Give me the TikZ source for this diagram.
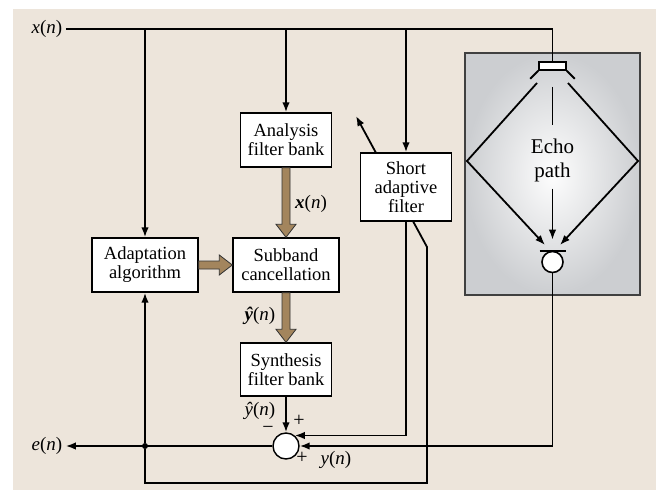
\documentclass[tikz,border=0pt]{standalone}
\usepackage{fontspec}
\setmainfont{Liberation Serif}
\usetikzlibrary{arrows.meta,calc}

\definecolor{panel}{RGB}{237,229,219}
\definecolor{bandbrown}{RGB}{163,133,93}
\definecolor{roomgray}{RGB}{204,206,209}

\tikzset{
  block/.style={draw, fill=white, line width=1.4pt, align=center, inner sep=0pt,
    minimum width=91pt, minimum height=54pt, font=\fontsize{18.5}{19}\selectfont},
  wire/.style={line width=1.8pt},
  sig/.style={wire, -{Latex[length=10pt,width=7.5pt]}},
  fat/.style={fill=bandbrown, draw=black!80, line width=0.8pt},
  lbl/.style={font=\fontsize{19}{20}\selectfont},
  sign/.style={font=\fontsize{20}{20}\selectfont, inner sep=0pt}
}

% wide subband arrow from #1 to #2
\newcommand{\fatarrow}[2]{%
  \filldraw[fat] let \p1=(#1), \p2=(#2), \n1={atan2(\y2-\y1,\x2-\x1)},
      \n2={\n1+90}, \n3={\n1+180}, \n4={\n1-90} in
    ($(\p1)+(\n2:4pt)$) -- ($(\p2)+(\n3:13pt)+(\n2:4pt)$)
    -- ($(\p2)+(\n3:13pt)+(\n2:10pt)$) -- (\p2)
    -- ($(\p2)+(\n3:13pt)+(\n4:10pt)$) -- ($(\p2)+(\n3:13pt)+(\n4:4pt)$)
    -- ($(\p1)+(\n4:4pt)$) -- cycle;
}

\begin{document}
\begin{tikzpicture}[x=1pt, y=-1pt]
    \useasboundingbox (0,0) rectangle (657,490);
    \fill[panel] (13,9) rectangle (656,490);

    % room with loudspeaker and microphone
    \node[draw=black!75, line width=1.2pt, minimum width=175pt, minimum height=242pt,
      inner color=white!97!roomgray, outer color=roomgray] (room) at (552.5,174) {};
    \node[draw, fill=white, line width=1.6pt, minimum width=27pt, minimum height=8pt, inner sep=0pt] (spk) at (552.5,66) {};
    \node[circle, draw, fill=white, line width=1.6pt, minimum size=21pt, inner sep=0pt] (mic) at (552.5,262) {};
    \node[align=center, font=\fontsize{21}{24}\selectfont, inner ysep=13pt] (echo) at (552.5,160) {Echo\\path};

    \coordinate (ltop) at (537,83);
    \coordinate (lmid) at (467,161);
    \coordinate (lend) at (545,245);
    \coordinate (rtop) at (568,83);
    \coordinate (rmid) at (638,161);
    \coordinate (rend) at (560,245);

    \draw[wire] (spk.south west) -- ++(-8,8);
    \draw[wire] (spk.south east) -- ++(8,8);
    \draw[sig] (ltop) -- (lmid) -- (lend);
    \draw[sig] (rtop) -- (rmid) -- (rend);
    \draw[wire] ($(spk.south)+(0,16)$) -- (echo.north);
    \draw[sig] ([yshift=6pt]echo.south) -- ($(mic.north)+(0,-11)$);
    \draw[wire] ($(mic.north)+(-13,0)$) -- ($(mic.north)+(13,0)$);

    % blocks
    \node[lbl] (xin) at (47,29) {\textit{x}(\textit{n})};
    \node[lbl] (eout) at (47,446) {\textit{e}(\textit{n})};
    \node[block] (ana) at (286,140) {Analysis\\filter bank};
    \node[block, minimum width=106pt] (sub) at (286,265) {Subband\\cancellation};
    \node[block, minimum width=106pt] (ada) at (145,265) {Adaptation\\algorithm};
    \node[block, minimum height=53pt] (syn) at (286,369.5) {Synthesis\\filter bank};
    \node[circle, draw, fill=white, line width=1.4pt, minimum size=26pt, inner sep=0pt] (sum) at (286,446) {};
    \node[circle, fill, minimum size=6pt, inner sep=0pt] (tap) at (145,446) {};

    \coordinate (low) at (427,483);
    \coordinate (bend) at (427,247);
    \coordinate (adapt) at (356,116);
    \draw[sig] (tap) |- (low) -- (bend) -- (adapt);
    \node[block, minimum height=68pt] (saf) at (406,187) {Short\\adaptive\\filter};

    \draw[wire] (xin.east) -| (spk.north);
    \draw[sig] (xin.east -| ada.north) -- (ada.north);
    \draw[sig] (xin.east -| ana.north) -- (ana.north);
    \draw[sig] (xin.east -| saf.north) -- (saf.north);

    \fatarrow{ana.south}{sub.north}
    \fatarrow{ada.east}{sub.west}
    \fatarrow{sub.south}{syn.north}

    \draw[sig] (syn.south) -- (sum.north);
    \draw[sig] (saf.south) |- (sum.50);
    \draw[sig] (mic.south) |- (sum.east);
    \draw[sig] (sum.west) -- (eout.east);
    \draw[sig] (tap) -- (ada.south);

    % signal labels
    \node[lbl] (xvec) at (311,204) {\textbf{\textit{x}}(\textit{n})};
    \node[lbl] (yvec) at (260,316) {\textbf{\textit{\^y}}(\textit{n})};
    \node[lbl] (yhat) at (260,411) {\textit{\^y}(\textit{n})};
    \node[lbl] (yout) at (336,460) {\textit{y}(\textit{n})};
    \node[sign] (minus) at (268,430) {\symbol{"2212}};
    \node[sign] (plusa) at (299,421) {+};
    \node[sign] (plusb) at (302,458) {+};
\end{tikzpicture}
\end{document}
